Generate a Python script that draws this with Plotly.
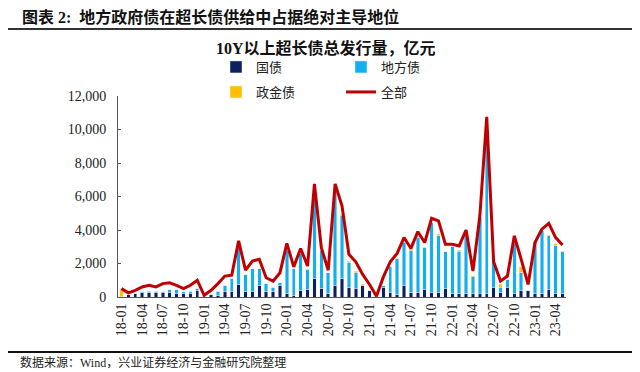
import plotly.graph_objects as go

months = [f"{y:02d}-{m:02d}" for y in range(18, 24) for m in range(1, 13)][:65]

tick_labels = ["18-01", "18-04", "18-07", "18-10", "19-01", "19-04", "19-07", "19-10",
               "20-01", "20-04", "20-07", "20-10", "21-01", "21-04", "21-07", "21-10",
               "22-01", "22-04", "22-07", "22-10", "23-01", "23-04"]

guozhai = [0, 120, 200, 240, 260, 250, 270, 270, 230, 200, 230, 390, 50, 120, 80, 330,
           330, 725, 330, 330, 700, 330, 330, 680, 235, 100, 370, 470, 1120, 490, 180, 700,
           1080, 570, 530, 660, 370, 0, 560, 275, 140, 690, 270, 270, 450, 275, 275, 490,
           200, 200, 200, 200, 200, 200, 570, 275, 570, 200, 370, 390, 200, 200, 430, 200, 200]

difang = [30, 0, 35, 60, 70, 50, 40, 160, 200, 100, 100, 120, 0, 0, 250, 340,
          790, 2175, 1000, 1370, 1000, 460, 240, 180, 2545, 1600, 2220, 1180, 4900, 2290, 1270, 5600,
          3760, 1510, 920, 0, 0, 0, 100, 1565, 2150, 2580, 2510, 3300, 2530, 4145, 3395, 2200,
          2840, 2540, 3700, 1020, 4540, 9440, 1530, 315, 450, 2970, 1080, 0, 3070, 3760, 3240, 2870, 2490]

zhengjin = [440, 0, 0, 0, 50, 30, 0, 0, 0, 0, 0, 0, 0, 0, 0, 0,
            0, 0, 0, 0, 0, 0, 0, 0, 0, 0, 0, 0, 0, 0, 0, 0,
            100, 60, 100, 100, 0, 0, 0, 0, 0, 0, 100, 60, 0, 0, 90, 0,
            0, 60, 0, 50, 0, 0, 0, 170, 0, 0, 350, 0, 0, 0, 60, 100, 50]

quanbu = [500, 250, 400, 600, 700, 600, 800, 850, 700, 500, 700, 1000, 100, 400, 800, 1250,
          1300, 3350, 1600, 2150, 2250, 1150, 950, 1450, 3200, 1800, 2900, 1850, 6750, 2950, 1600, 6750,
          5450, 2550, 2100, 1350, 750, 50, 1200, 2100, 2600, 3550, 2900, 3900, 3250, 4700, 4550, 3150,
          3150, 3050, 4000, 1550, 4850, 10750, 2100, 950, 1250, 3650, 2250, 750, 3250, 4050, 4400, 3550, 3100]

NAVY = "#0C1F5E"
SKY = "#12B0EE"
GOLD = "#FFC000"
RED = "#C00000"

CJK = "Noto Sans CJK SC"
SERIF = "Liberation Serif, Noto Sans CJK SC"

fig = go.Figure()
fig.add_trace(go.Bar(x=months, y=guozhai, name="国债", marker_color=NAVY, width=0.5,
                     legend="legend"))
fig.add_trace(go.Bar(x=months, y=difang, name="地方债", marker_color=SKY, width=0.5,
                     legend="legend"))
fig.add_trace(go.Bar(x=months, y=zhengjin, name="政金债", marker_color=GOLD, width=0.5,
                     legend="legend2"))
fig.add_trace(go.Scatter(x=months, y=quanbu, name="全部", mode="lines",
                         line=dict(color=RED, width=3), legend="legend2"))

# page body has an 8px margin; work in screen pixels and compensate
O = 8
W, H = 640 - O, 372 - O
L, T = 118 - O, 96 - O
pw, ph = 448, 201
R, B = W - L - pw, H - T - ph

def px(x):
    return (x - O - L) / pw

def py(y):
    return (H - B - (y - O)) / ph

fig.update_layout(
    width=W, height=H,
    margin=dict(l=L, r=R, t=T, b=B, autoexpand=False),
    barmode="stack",
    plot_bgcolor="white", paper_bgcolor="white",
    font=dict(family=SERIF, size=13, color="#222"),
    legend=dict(orientation="h", x=px(216), y=py(52), xanchor="left", yanchor="top",
                entrywidth=80, entrywidthmode="pixels", font=dict(family=CJK, size=13),
                bgcolor="rgba(0,0,0,0)", itemwidth=30, traceorder="normal"),
    legend2=dict(orientation="h", x=px(216), y=py(77), xanchor="left", yanchor="top",
                 entrywidth=80, entrywidthmode="pixels", font=dict(family=CJK, size=13),
                 bgcolor="rgba(0,0,0,0)", itemwidth=30, traceorder="normal"),
    xaxis=dict(type="category", categoryorder="array", categoryarray=months,
               tickmode="array", tickvals=tick_labels, ticktext=tick_labels,
               tickangle=-90, showline=True, linecolor="#555", linewidth=1,
               ticks="", showgrid=False, tickfont=dict(family=SERIF, size=14, color="#222"),
               range=[-0.5, 64.5], automargin=False),
    yaxis=dict(range=[0, 12000], dtick=2000, tickformat=",", showline=True,
               linecolor="#555", linewidth=1, ticks="inside", ticklen=3, tickcolor="#555",
               showgrid=False, zeroline=False, automargin=False, ticklabelstandoff=8,
               tickfont=dict(family=SERIF, size=14, color="#222")),
    showlegend=True,
)

annotations = [
    dict(text="<b>图表 2:  地方政府债在超长债供给中占据绝对主导地位</b>", x=px(20), y=py(17),
         xref="paper", yref="paper", xanchor="left", yanchor="middle", showarrow=False,
         font=dict(family="Liberation Serif, Noto Sans CJK SC", size=16, color="#111")),
    dict(text="<b>10Y以上超长债总发行量，亿元</b>", x=px(326), y=py(48),
         xref="paper", yref="paper", xanchor="center", yanchor="middle", showarrow=False,
         font=dict(family="Liberation Serif, Noto Sans CJK SC", size=16, color="#111")),
    dict(text="数据来源：Wind，兴业证券经济与金融研究院整理", x=px(18), y=py(362),
         xref="paper", yref="paper", xanchor="left", yanchor="middle", showarrow=False,
         font=dict(family="Liberation Serif, Noto Sans CJK SC", size=12, color="#222")),
]
fig.update_layout(annotations=annotations)

fig.add_shape(type="line", xref="paper", yref="paper", x0=px(8), x1=px(632),
              y0=py(29), y1=py(29), line=dict(color="#333", width=2))
fig.add_shape(type="line", xref="paper", yref="paper", x0=px(8), x1=px(632),
              y0=py(352), y1=py(352), line=dict(color="#111", width=2))

fig.write_html("out.html")
